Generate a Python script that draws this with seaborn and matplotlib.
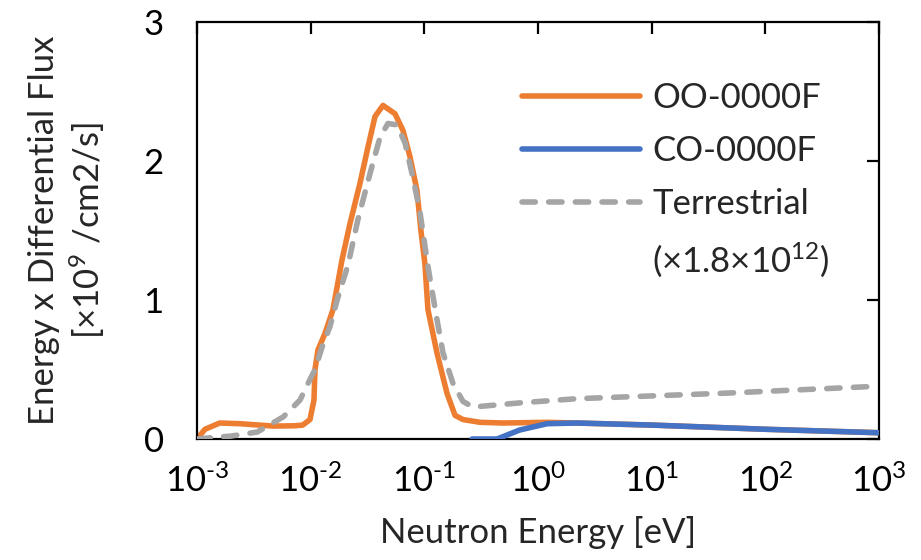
import numpy as np
import pandas as pd
import matplotlib
matplotlib.use("Agg")
import matplotlib.pyplot as plt
import seaborn as sns
from matplotlib.ticker import FixedLocator, FuncFormatter
from matplotlib.lines import Line2D

# ---- data (energies as log10(E/eV)) ----
oo_log_energy = [-3.0, -2.93, -2.80, -2.62, -2.33, -2.14, -2.07, -2.006, -1.971, -1.962,
                 -1.936, -1.874, -1.804, -1.724, -1.654, -1.566, -1.496, -1.434, -1.364,
                 -1.258, -1.188, -1.126, -1.065, -1.030, -0.995, -0.968, -0.889, -0.801,
                 -0.730, -0.660, -0.510, -0.308, 0.079, 0.343, 1.01, 2.0, 3.0]
oo_flux = [0.0, 0.07, 0.115, 0.11, 0.093, 0.095, 0.10, 0.14, 0.28, 0.50,
           0.64, 0.76, 0.93, 1.29, 1.55, 1.84, 2.10, 2.32, 2.40,
           2.34, 2.22, 2.03, 1.79, 1.50, 1.26, 0.93, 0.62, 0.33,
           0.17, 0.14, 0.12, 0.115, 0.12, 0.115, 0.10, 0.07, 0.045]

co_log_energy = [-0.58, -0.36, -0.16, 0.08, 0.34, 1.01, 2.0, 3.0]
co_flux = [0.0, 0.0, 0.065, 0.11, 0.115, 0.10, 0.07, 0.045]

terr_log_energy = [-3.0, -2.80, -2.71, -2.47, -2.24, -2.094, -2.023, -1.962, -1.900, -1.830,
                   -1.760, -1.672, -1.584, -1.478, -1.390, -1.320, -1.241, -1.170, -1.100,
                   -1.038, -0.968, -0.889, -0.836, -0.748, -0.660, -0.572, -0.158, 0.343,
                   1.66, 3.0]
terr_flux = [0.0, 0.015, 0.02, 0.05, 0.16, 0.28, 0.40, 0.50, 0.66, 0.81,
             1.02, 1.25, 1.58, 1.91, 2.17, 2.27, 2.26, 2.13, 1.88,
             1.63, 1.24, 0.86, 0.62, 0.40, 0.27, 0.23, 0.26, 0.29,
             0.33, 0.38]

x_ticks = [1e-3, 1e-2, 1e-1, 1e0, 1e1, 1e2, 1e3]
y_ticks = [0, 1, 2, 3]

series_labels = ["OO-0000F", "CO-0000F", "Terrestrial"]
scale_note = "(×1.8×10$^{12}$)"

ORANGE = "#ED7D31"
BLUE = "#4472C4"
GRAY = "#A5A5A5"

sns.set_theme(style="white")
plt.rcParams["font.family"] = ["Lato", "DejaVu Sans"]
plt.rcParams["mathtext.fontset"] = "custom"
plt.rcParams["mathtext.rm"] = "Lato"
plt.rcParams["mathtext.it"] = "Lato"
plt.rcParams["mathtext.bf"] = "Lato"

FS = 25
LW = 4.0
DASH = (0, (2.4, 2.4))

fig = plt.figure(figsize=(9.21, 5.60), dpi=100)
ax = fig.add_axes([197 / 921, 1 - 439 / 560, (879 - 197) / 921, (439 - 22) / 560])

df_oo = pd.DataFrame({"E": 10.0 ** np.array(oo_log_energy), "F": oo_flux})
df_co = pd.DataFrame({"E": 10.0 ** np.array(co_log_energy), "F": co_flux})
df_te = pd.DataFrame({"E": 10.0 ** np.array(terr_log_energy), "F": terr_flux})

sns.lineplot(data=df_oo, x="E", y="F", ax=ax, color=ORANGE, lw=LW, sort=False, zorder=2,
             solid_capstyle="round", solid_joinstyle="round")
sns.lineplot(data=df_te, x="E", y="F", ax=ax, color=GRAY, lw=LW, sort=False,
             linestyle=DASH, dash_capstyle="round", zorder=3)
sns.lineplot(data=df_co, x="E", y="F", ax=ax, color=BLUE, lw=LW, sort=False, zorder=4,
             solid_capstyle="round", solid_joinstyle="round")

ax.set_xscale("log")
ax.set_xlim(x_ticks[0], x_ticks[-1])
ax.set_ylim(y_ticks[0], y_ticks[-1])
ax.xaxis.set_major_locator(FixedLocator(x_ticks))
ax.xaxis.set_minor_locator(FixedLocator([]))
ax.yaxis.set_major_locator(FixedLocator(y_ticks))


def xfmt(v, pos):
    e = int(round(np.log10(v)))
    if e < 0:
        return r"10$^{\text{-}%d}$" % (-e)
    return r"10$^{%d}$" % e


ax.xaxis.set_major_formatter(FuncFormatter(xfmt))
ax.yaxis.set_major_formatter(FuncFormatter(lambda v, p: "%d" % v))

for s in ax.spines.values():
    s.set_visible(True)
    s.set_color("black")
    s.set_linewidth(1.6)

ax.tick_params(axis="both", which="major", direction="in", length=8.5, width=1.6,
               top=True, right=True, labelsize=FS, colors="black")
ax.tick_params(axis="y", pad=24)
ax.tick_params(axis="x", pad=18)

ax.set_xlabel("Neutron Energy [eV]", fontsize=FS, labelpad=13)
ax.set_ylabel("Energy x Differential Flux\n[×10$^{9}$ /cm2/s]", fontsize=FS, labelpad=26,
              linespacing=1.25)

handles = [
    Line2D([], [], color=ORANGE, lw=LW),
    Line2D([], [], color=BLUE, lw=LW),
    Line2D([], [], color=GRAY, lw=LW, linestyle=DASH, dash_capstyle="round"),
    Line2D([], [], color="none", lw=0),
]
leg = ax.legend(handles, series_labels + [scale_note], loc="upper left",
                bbox_to_anchor=(0.4765, 0.855), frameon=False, fontsize=FS,
                handlelength=3.4, handletextpad=0.35, labelspacing=0.6,
                borderaxespad=0, borderpad=0)

fig.savefig("out.png", dpi=100)
